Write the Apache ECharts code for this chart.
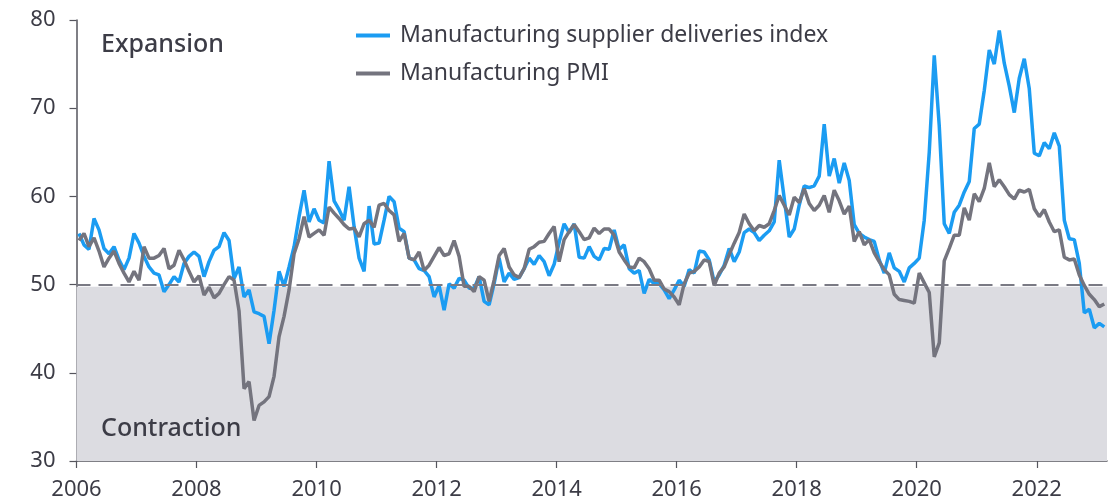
<!DOCTYPE html>
<html>
<head>
<meta charset="utf-8">
<script src="https://cdn.jsdelivr.net/npm/echarts@6/dist/echarts.min.js"></script>
<style>
html,body{margin:0;padding:0;background:#fff;}
#chart{width:1112px;height:504px;}
</style>
</head>
<body>
<div id="chart"></div>
<script>
// Monthly data, Jan 2006 - Feb 2023
const startYear = 2006;
const tickYears = [2006, 2008, 2010, 2012, 2014, 2016, 2018, 2020, 2022];
const yTicks = [30, 40, 50, 60, 70, 80];
const seriesNames = ['Manufacturing supplier deliveries index', 'Manufacturing PMI'];
const zoneLabels = ['Expansion', 'Contraction'];
const threshold = 50;

const supplierDeliveries = [
  55.8, 54.5, 54.0, 57.5, 56.2, 54.1, 53.5, 54.3, 52.8, 51.7, 53.0, 55.8,
  54.7, 53.2, 52.0, 51.3, 51.1, 49.2, 50.0, 50.9, 50.3, 52.4, 53.2, 53.7,
  53.2, 50.9, 52.6, 53.9, 54.3, 55.9, 55.0, 50.7, 52.0, 48.6, 49.4, 46.9,
  46.7, 46.4, 43.3, 47.1, 51.5, 49.8, 52.0, 54.3, 57.7, 60.7, 57.1, 58.6,
  57.3, 57.0, 64.0, 59.5, 58.5, 57.3, 61.1, 56.6, 53.0, 51.5, 58.9, 54.6,
  54.7, 57.3, 60.0, 59.4, 56.4, 56.0, 53.0, 52.8, 51.8, 51.6, 50.9, 48.6,
  49.9, 47.1, 50.1, 49.6, 50.7, 50.5, 49.6, 49.6, 50.9, 48.1, 47.7, 50.1,
  53.0, 50.3, 51.3, 50.6, 50.8, 51.8, 53.0, 52.3, 53.3, 52.6, 51.0, 52.3,
  54.8, 56.9, 55.9, 56.9, 53.1, 53.0, 54.3, 53.2, 52.8, 54.1, 54.0, 56.2,
  54.0, 54.5, 51.8, 51.3, 51.6, 49.0, 50.6, 50.1, 50.1, 49.4, 48.4, 49.4,
  50.5, 49.8, 51.7, 51.3, 53.8, 53.7, 52.8, 50.3, 51.1, 52.2, 54.1, 52.6,
  53.7, 55.9, 56.3, 55.9, 55.0, 55.6, 56.1, 57.1, 64.1, 59.8, 55.4, 56.3,
  59.0, 61.2, 61.0, 61.2, 62.3, 68.2, 62.3, 64.3, 61.5, 63.8, 61.8, 56.8,
  55.8, 55.4, 55.1, 54.9, 52.8, 51.3, 53.6, 51.9, 51.5, 50.3, 51.9, 52.4,
  53.0, 57.3, 65.0, 76.0, 68.0, 56.9, 55.8, 58.2, 59.0, 60.5, 61.7, 67.7,
  68.2, 72.0, 76.6, 75.0, 78.8, 75.1, 72.5, 69.5, 73.4, 75.6, 72.2, 64.9,
  64.6, 66.1, 65.4, 67.2, 65.7, 57.3, 55.2, 55.1, 52.4, 46.8, 47.2, 45.1,
  45.6, 45.2
];

const manufacturingPMI = [
  55.0, 55.8, 54.3, 55.3, 53.8, 52.0, 53.0, 53.8, 52.4, 51.3, 50.3, 51.5,
  50.5, 54.3, 53.0, 53.0, 53.3, 54.1, 51.8, 52.2, 53.9, 52.8, 51.5, 50.3,
  51.0, 48.8, 49.7, 48.5, 49.0, 50.0, 50.9, 50.5, 47.0, 38.2, 39.0, 34.6,
  36.3, 36.7, 37.3, 39.6, 44.1, 46.4, 49.4, 53.5, 55.2, 57.7, 55.4, 55.8,
  56.2, 55.6, 58.8, 58.1, 57.5, 56.8, 56.3, 56.4, 55.4, 56.9, 57.3, 56.5,
  59.0, 59.2, 58.4, 57.9, 54.9, 55.8, 53.0, 52.8, 53.7, 51.6, 52.2, 53.2,
  54.2, 53.3, 53.5, 55.0, 53.2, 49.8, 49.8, 49.2, 50.9, 50.5, 48.1, 50.5,
  53.3, 54.1, 52.0, 51.1, 50.8, 51.8, 54.0, 54.3, 54.8, 54.9, 55.8, 56.6,
  52.6, 55.1, 56.0, 56.8, 56.0, 55.1, 55.3, 56.4, 55.8, 56.3, 56.3, 55.6,
  53.7, 52.8, 52.0, 51.9, 53.0, 52.6, 51.8, 50.5, 50.5, 49.5, 49.2, 48.6,
  47.7, 50.1, 51.3, 51.5, 52.0, 52.8, 52.6, 49.9, 51.3, 52.0, 53.4, 54.7,
  55.9, 58.0, 56.9, 56.1, 56.7, 56.5, 56.9, 58.4, 60.1, 59.0, 57.9, 59.9,
  59.3, 60.9, 59.2, 58.4, 59.0, 60.1, 58.2, 60.7, 59.5, 58.0, 58.9, 54.9,
  56.0, 54.5, 55.1, 53.6, 52.6, 51.7, 51.1, 48.9, 48.3, 48.2, 48.1, 47.9,
  51.3, 50.2, 49.1, 41.8, 43.4, 52.7, 54.1, 55.6, 55.6, 58.7, 57.3, 60.3,
  59.4, 60.9, 63.8, 61.1, 61.9, 61.1, 60.2, 59.7, 60.7, 60.5, 60.8, 58.6,
  57.7, 58.5, 57.1, 56.0, 56.2, 53.1, 52.8, 52.9, 51.1, 49.9, 48.9, 48.3,
  47.5, 47.8
];

// month i (0-based from Jan 2006) plotted at mid-month
const toPairs = arr => arr.map((v, i) => [startYear + (i + 0.5) / 12, v]);

const textColor = '#3c3c46';
const fontFamily = '"Noto Sans", "Open Sans", sans-serif';

const chart = echarts.init(document.getElementById('chart'), null, {renderer: 'canvas'});
chart.setOption({
  animation: false,
  backgroundColor: '#ffffff',
  grid: {left: 76.5, right: 5, top: 20, bottom: 43, containLabel: false},
  legend: {
    orient: 'vertical',
    left: 351,
    top: 19,
    itemWidth: 34,
    itemHeight: 4,
    itemGap: 15,
    icon: 'rect',
    textStyle: {color: textColor, fontSize: 23, fontFamily: fontFamily, padding: [0, 0, 0, 5]},
    data: seriesNames
  },
  xAxis: {
    type: 'value',
    min: startYear,
    max: 2023.17,
    interval: 2,
    axisLine: {show: true, lineStyle: {color: '#55555d', width: 1.5}},
    axisTick: {show: true, length: 7, customValues: tickYears, lineStyle: {color: '#55555d', width: 1.2}},
    axisLabel: {
      customValues: tickYears,
      color: textColor, fontSize: 22, fontFamily: fontFamily, margin: 18,
      formatter: v => String(Math.round(v))
    },
    splitLine: {show: false}
  },
  yAxis: {
    type: 'value',
    min: yTicks[0],
    max: yTicks[yTicks.length - 1],
    interval: 10,
    axisLine: {show: true, lineStyle: {color: '#55555d', width: 1.5}},
    axisTick: {show: true, length: 7, lineStyle: {color: '#55555d', width: 1.2}},
    axisLabel: {color: textColor, fontSize: 22, fontFamily: fontFamily, margin: 21},
    splitLine: {show: false}
  },
  graphic: [
    {type: 'text', z: 100, left: 101, top: 32, style: {text: zoneLabels[0], fill: textColor, font: '500 25px ' + fontFamily}},
    {type: 'text', z: 100, left: 101, top: 416, style: {text: zoneLabels[1], fill: textColor, font: '500 25px ' + fontFamily}}
  ],
  series: [
    {
      name: seriesNames[0],
      type: 'line',
      data: toPairs(supplierDeliveries),
      showSymbol: false,
      symbol: 'none',
      lineStyle: {color: '#1b9cf2', width: 3.5},
      itemStyle: {color: '#1b9cf2'},
      z: 3,
      markArea: {
        silent: true,
        itemStyle: {color: '#dcdce1'},
        data: [[{yAxis: 30}, {yAxis: 49.75}]]
      }
    },
    {
      name: seriesNames[1],
      type: 'line',
      data: toPairs(manufacturingPMI),
      showSymbol: false,
      symbol: 'none',
      lineStyle: {color: '#74747e', width: 3.5},
      itemStyle: {color: '#74747e'},
      z: 4,
      markLine: {
        silent: true,
        symbol: 'none',
        label: {show: false},
        lineStyle: {color: '#7a7a84', width: 2, type: [14, 8]},
        data: [{yAxis: threshold}]
      }
    }
  ]
});
</script>
</body>
</html>
